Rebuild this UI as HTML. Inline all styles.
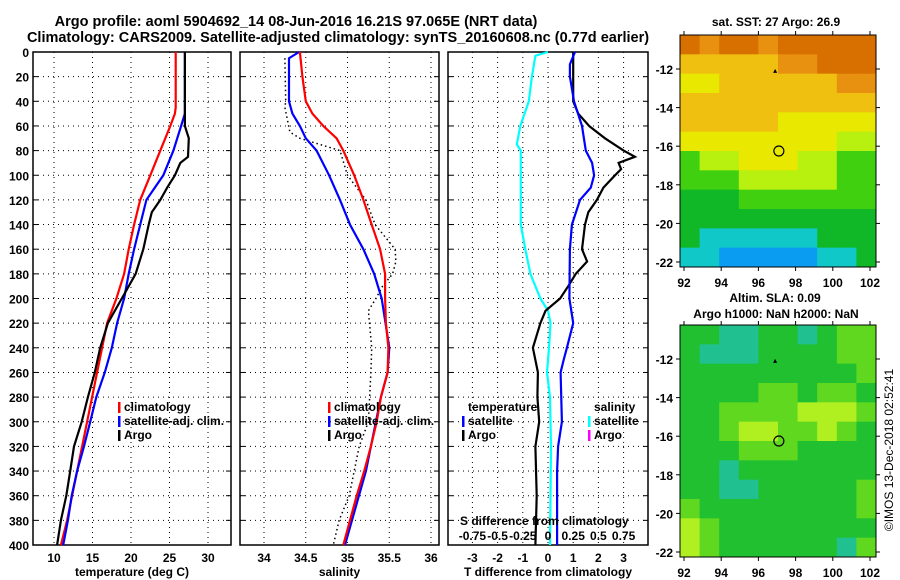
<!DOCTYPE html>
<html><head><meta charset="utf-8">
<style>
body{margin:0;background:#fff;}
svg{display:block;font-family:"Liberation Sans",sans-serif;font-weight:bold;font-size:12px;}
</style></head>
<body>
<svg id="c" width="900" height="580" xmlns="http://www.w3.org/2000/svg"></svg>
<script>
// ---- data ----
const tDepth=[0,45,50,60,80,100,120,140,160,180,200,220,260,300,340,380,400];
const tClim=[25.8,25.8,25.7,25.1,23.8,22.5,21.2,20.4,19.7,19.1,18.1,16.9,15.6,14.3,13.0,11.7,10.9];
const sDepthBlue=[0,50,60,80,100,120,140,160,180,200,220,240,260,280,300,320,340,360,380,400];
const tSat=[27.0,27.0,26.5,25.5,24.2,22.0,21.2,20.4,19.7,19.1,18.2,17.5,16.6,15.5,14.7,13.9,13.0,12.3,11.8,11.2];
const argoDepth=[0,60,70,85,90,100,110,120,130,140,160,180,200,210,220,240,260,280,300,320,340,360,380,400];
const tArgo=[27.0,27.0,27.5,27.4,26.4,25.7,24.7,23.8,22.7,22.3,21.6,20.6,18.8,17.9,17.0,16.0,15.3,14.4,13.6,12.6,12.1,11.6,10.9,10.4];
const sClimDepth=[0,20,40,50,60,70,80,100,120,140,160,180,200,220,240,260,280,300,320,340,360,380,400];
const sClim=[34.43,34.46,34.5,34.58,34.71,34.87,34.95,35.08,35.19,35.29,35.39,35.45,35.45,35.46,35.49,35.48,35.4,35.35,35.28,35.2,35.11,35.03,34.95];
const sSatDepth=[0,5,40,50,60,70,80,100,120,140,160,180,200,240,260,280,300,340,400];
const sSat=[34.42,34.3,34.3,34.34,34.43,34.5,34.63,34.78,34.91,35.03,35.19,35.32,35.41,35.5,35.48,35.4,35.34,35.22,34.97];
const sArgoDepth=[5,40,45,65,70,80,100,120,140,160,170,180,190,200,210,240,260,300,320,360,380,400];
const sArgo=[34.25,34.26,34.25,34.31,34.43,34.91,35.0,35.22,35.33,35.57,35.58,35.54,35.42,35.34,35.25,35.29,35.28,35.25,35.14,35.02,34.9,34.83];
const dDepth=[0,10,20,40,60,80,90,100,110,120,140,160,200,220,240,250,260,300,320,340,400];
const dTSat=[1.07,0.87,0.87,1.03,1.35,1.5,1.75,1.83,1.7,1.27,0.95,0.87,0.85,1.0,0.75,0.62,0.5,0.55,0.4,0.36,0.36];
const dArgoDepth=[0,40,50,60,70,80,85,90,95,100,110,120,130,140,160,170,180,190,200,210,220,240,260,280,300,320,360,400];
const dTArgo=[1.0,1.0,1.2,1.63,2.26,3.0,3.45,2.8,2.9,2.66,2.2,1.94,1.6,1.47,1.35,1.55,1.1,0.8,0.48,-0.1,-0.3,-0.6,-0.4,-0.42,-0.35,-0.5,-0.45,-0.5];
const dSDepth=[0,3,20,40,60,75,80,100,140,160,180,200,210,220,240,260,280,320,400];
const dSSat=[0,-0.125,-0.16,-0.19,-0.275,-0.31,-0.27,-0.27,-0.27,-0.225,-0.175,-0.075,0,0.025,0.01,-0.01,0.02,0.03,0.02];
const depthTicks=[0,20,40,60,80,100,120,140,160,180,200,220,240,260,280,300,320,340,360,380,400];
const tTicks=[10,15,20,25,30];
const sTicks=[34,34.5,35,35.5,36];
const sTickLabels=["34","34.5","35","35.5","36"];
const dTicks=[-3,-2,-1,0,1,2,3];
const dSTicks=[-0.75,-0.5,-0.25,0,0.25,0.5,0.75];
const dSTickLabels=["-0.75","-0.5","-0.25","0","0.25","0.5","0.75"];
const lonTicks=[92,94,96,98,100,102];
const latTicks=[-12,-14,-16,-18,-20,-22];
const sstGrid=[
[8,7,8,8,7,8,8,8,8,8],
[6,6,6,6,6,7,7,8,8,8],
[5,5,6,6,6,6,6,6,7,7],
[6,6,6,6,6,6,6,6,6,6],
[6,6,6,6,6,5,5,5,5,5],
[5,5,5,5,5,5,5,5,4,4],
[3,4,4,5,5,5,4,4,3,3],
[3,3,3,4,4,4,4,4,3,3],
[2,2,2,3,3,3,3,3,3,3],
[2,2,2,2,2,2,2,2,2,2],
[2,1,1,1,1,1,1,2,2,2],
[1,1,0,0,0,0,0,1,1,2]];
const slaGrid=[
[2,2,1,1,2,2,1,2,3,3],
[2,1,1,1,2,2,2,2,3,3],
[2,2,2,2,2,2,2,2,2,3],
[2,2,2,2,3,3,2,3,3,2],
[2,2,3,3,3,3,4,4,4,3],
[2,2,3,4,4,3,3,4,3,2],
[2,2,2,3,3,3,2,2,2,2],
[2,2,1,2,2,2,2,2,2,2],
[2,2,1,1,2,2,2,2,2,3],
[3,2,2,2,2,2,2,2,2,3],
[4,3,2,2,2,2,2,2,2,2],
[4,3,2,2,2,2,2,2,1,3]];
const argoLon=97.1, argoLat=-16.25;

// ---- helpers ----
const NS="http://www.w3.org/2000/svg";
const svg=document.getElementById('c');
function el(tag,attrs,parent){const e=document.createElementNS(NS,tag);for(const k in attrs)e.setAttribute(k,attrs[k]);(parent||svg).appendChild(e);return e;}
function txt(s,x,y,anchor,parent,extra){const e=el('text',Object.assign({x:x,y:y,'text-anchor':anchor||'start'},extra||{}),parent);e.textContent=s;return e;}
const Y0=52,Y1=545;
const yD=d=>Y0+d*(Y1-Y0)/400;
const xT=t=>54+(t-10)*7.7;
const xS=s=>264+(s-34)*83.5;
const xDT=d=>548+d*25.2;
const xDS=s=>548+s*4*25.2;

function panel(x0,x1,name,xt,ticks,labels,xlabel){
  const g=el('g',{},svg);
  
  
  depthTicks.forEach(d=>{if(d>0&&d<400)el('line',{x1:x0,x2:x1,y1:yD(d),y2:yD(d),stroke:'#000','stroke-dasharray':'1,4'},g);});
  ticks.forEach((t,i)=>{const x=xt(t);el('line',{x1:x,x2:x,y1:Y0,y2:Y1,stroke:'#000','stroke-dasharray':'1,4'},g);
    const l=txt(labels[i],x,562,'middle',g);});
  depthTicks.forEach(d=>{el('line',{x1:x0,x2:x0+5,y1:yD(d),y2:yD(d),stroke:'#000'},g);el('line',{x1:x1-5,x2:x1,y1:yD(d),y2:yD(d),stroke:'#000'},g);});
  el('rect',{x:x0,y:Y0,width:x1-x0,height:Y1-Y0,fill:'none',stroke:'#000','stroke-width':1.5},g);
  const xl=txt(xlabel,(x0+x1)/2,576,'middle',g);
  return g;
}
function line(g,xs,ds,xf,color,w,name,dash){
  const pts=xs.map((v,i)=>xf(v).toFixed(1)+','+yD(ds[i]).toFixed(1)).join(' ');
  const p=el('polyline',{points:pts,fill:'none',stroke:color,'stroke-width':w},g);
  if(dash)p.setAttribute('stroke-dasharray',dash);
  
  
}
function legend(g,x,y,color,label,name){
  el('rect',{x:x,y:y-9,width:2.5,height:11,fill:color},g);
  const t=txt(label,x+6,y,'start',g);
  
  
}

// titles
const t1=txt('Argo profile: aoml 5904692_14 08-Jun-2016 16.21S 97.065E (NRT data)',296,26,'middle',svg,{'font-size':'14.5'});

const t2=txt('Climatology: CARS2009. Satellite-adjusted climatology: synTS_20160608.nc (0.77d earlier)',338,42,'middle',svg,{'font-size':'14.5'});


// depth labels
depthTicks.forEach(d=>{const l=txt(String(d),29,yD(d)+5,'end');});

// panel 1
const p1=panel(33,231,'temperature-panel',xT,tTicks,tTicks.map(String),'temperature (deg C)');
line(p1,tClim,tDepth,xT,'#f00',2.2,'temperature-climatology-line');
line(p1,tSat,sDepthBlue,xT,'#00f',2.2,'temperature-satellite-line');
line(p1,tArgo,argoDepth,xT,'#000',2.2,'temperature-argo-line');
legend(p1,118,411,'#f00','climatology','legend-climatology');
legend(p1,118,425,'#00f','satellite-adj. clim.','legend-satellite-adj');
legend(p1,118,439,'#000','Argo','legend-argo');

// panel 2
const p2=panel(240,439,'salinity-panel',xS,sTicks,sTickLabels,'salinity');
line(p2,sArgo,sArgoDepth,xS,'#000',1.5,'salinity-argo-line','1.5,3');
line(p2,sSat,sSatDepth,xS,'#00f',2.2,'salinity-satellite-line');
line(p2,sClim,sClimDepth,xS,'#f00',2.2,'salinity-climatology-line');
legend(p2,328,411,'#f00','climatology','legend-climatology-s');
legend(p2,328,425,'#00f','satellite-adj. clim.','legend-satellite-adj-s');
legend(p2,328,439,'#000','Argo','legend-argo-s');

// panel 3
const p3=panel(448,648,'difference-panel',xDT,dTicks,dTicks.map(String),'T difference from climatology');
line(p3,dSSat,dSDepth,xDS,'#0ff',2.2,'salinity-satellite-diff-line');
line(p3,dTArgo,dArgoDepth,xDT,'#000',2.2,'temperature-argo-diff-line');
line(p3,dTSat,dDepth,xDT,'#00f',2.2,'temperature-satellite-diff-line');
txt('temperature',468,411,'start',p3);
legend(p3,462,425,'#00f','satellite','legend-t-satellite');
legend(p3,462,439,'#000','Argo','legend-t-argo');
txt('salinity',594,411,'start',p3);
legend(p3,588,425,'#0ff','satellite','legend-s-satellite');
legend(p3,588,439,'#f0f','Argo','legend-s-argo');
txt('S difference from climatology',460,525,'start',p3);
dSTicks.forEach((s,i)=>{const l=txt(dSTickLabels[i],xDS(s),540,'middle',p3);});

// maps
const MX0=680,MX1=876;
const lonX=lon=>684+(lon-92)*18.6;
const sstColors=['#0a9cf0','#10c8c8','#10b828','#40d010','#b8f010','#e8e800','#f0c010','#e89010','#d87000'];
const slaColors=['#10a0a0','#20c090','#20c030','#60d820','#b0f020'];
function map(y0,y1,grid,colors,name,latY){
  const g=el('g',{},svg);
  
  
  const rows=grid.length,cols=grid[0].length;
  const cw=(MX1-MX0)/cols,ch=(y1-y0)/rows;
  grid.forEach((row,r)=>row.forEach((v,c)=>{
    const cell=el('rect',{x:MX0+c*cw,y:y0+r*ch,width:cw+0.5,height:ch+0.5,fill:colors[v]},g);
    
    
  }));
  el('rect',{x:MX0,y:y0,width:MX1-MX0,height:y1-y0,fill:'none',stroke:'#000'},g);
  lonTicks.forEach(l=>{const x=lonX(l);el('line',{x1:x,x2:x,y1:y1,y2:y1+4,stroke:'#000'},g);el('line',{x1:x,x2:x,y1:y0-4,y2:y0,stroke:'#000'},g);
    txt(String(l),x,y1+20,'middle',g);});
  latTicks.forEach(l=>{const y=latY(l);el('line',{x1:MX0-4,x2:MX0,y1:y,y2:y,stroke:'#000'},g);el('line',{x1:MX1,x2:MX1+4,y1:y,y2:y,stroke:'#000'},g);
    txt(String(l),673,y+5,'end',g);});
  const cx=lonX(argoLon),cy=latY(argoLat);
  const m=el('circle',{cx:cx,cy:cy,r:5,fill:'none',stroke:'#000','stroke-width':1.2},g);
  
  const ty=latY(-12.1);const tx=lonX(96.9);
  el('polygon',{points:`${tx-2},${ty+2} ${tx+2},${ty+2} ${tx},${ty-2}`,fill:'#000'},g);
  return g;
}
map(35,267,sstGrid,sstColors,'sst-map',lat=>69+(-12-lat)*19.3);
map(325,557,slaGrid,slaColors,'sla-map',lat=>359+(-12-lat)*19.3);
const m1=txt('sat. SST: 27 Argo: 26.9',776,26,'middle');
const m2=txt('Altim. SLA: 0.09',775,302,'middle');
const m3=txt('Argo h1000: NaN h2000: NaN',776,318,'middle');
const cr=txt('©IMOS 13-Dec-2018 02:52:41',893,450,'middle',svg,{transform:'rotate(-90 893 450)','font-weight':'normal'});

</script>
</body></html>
